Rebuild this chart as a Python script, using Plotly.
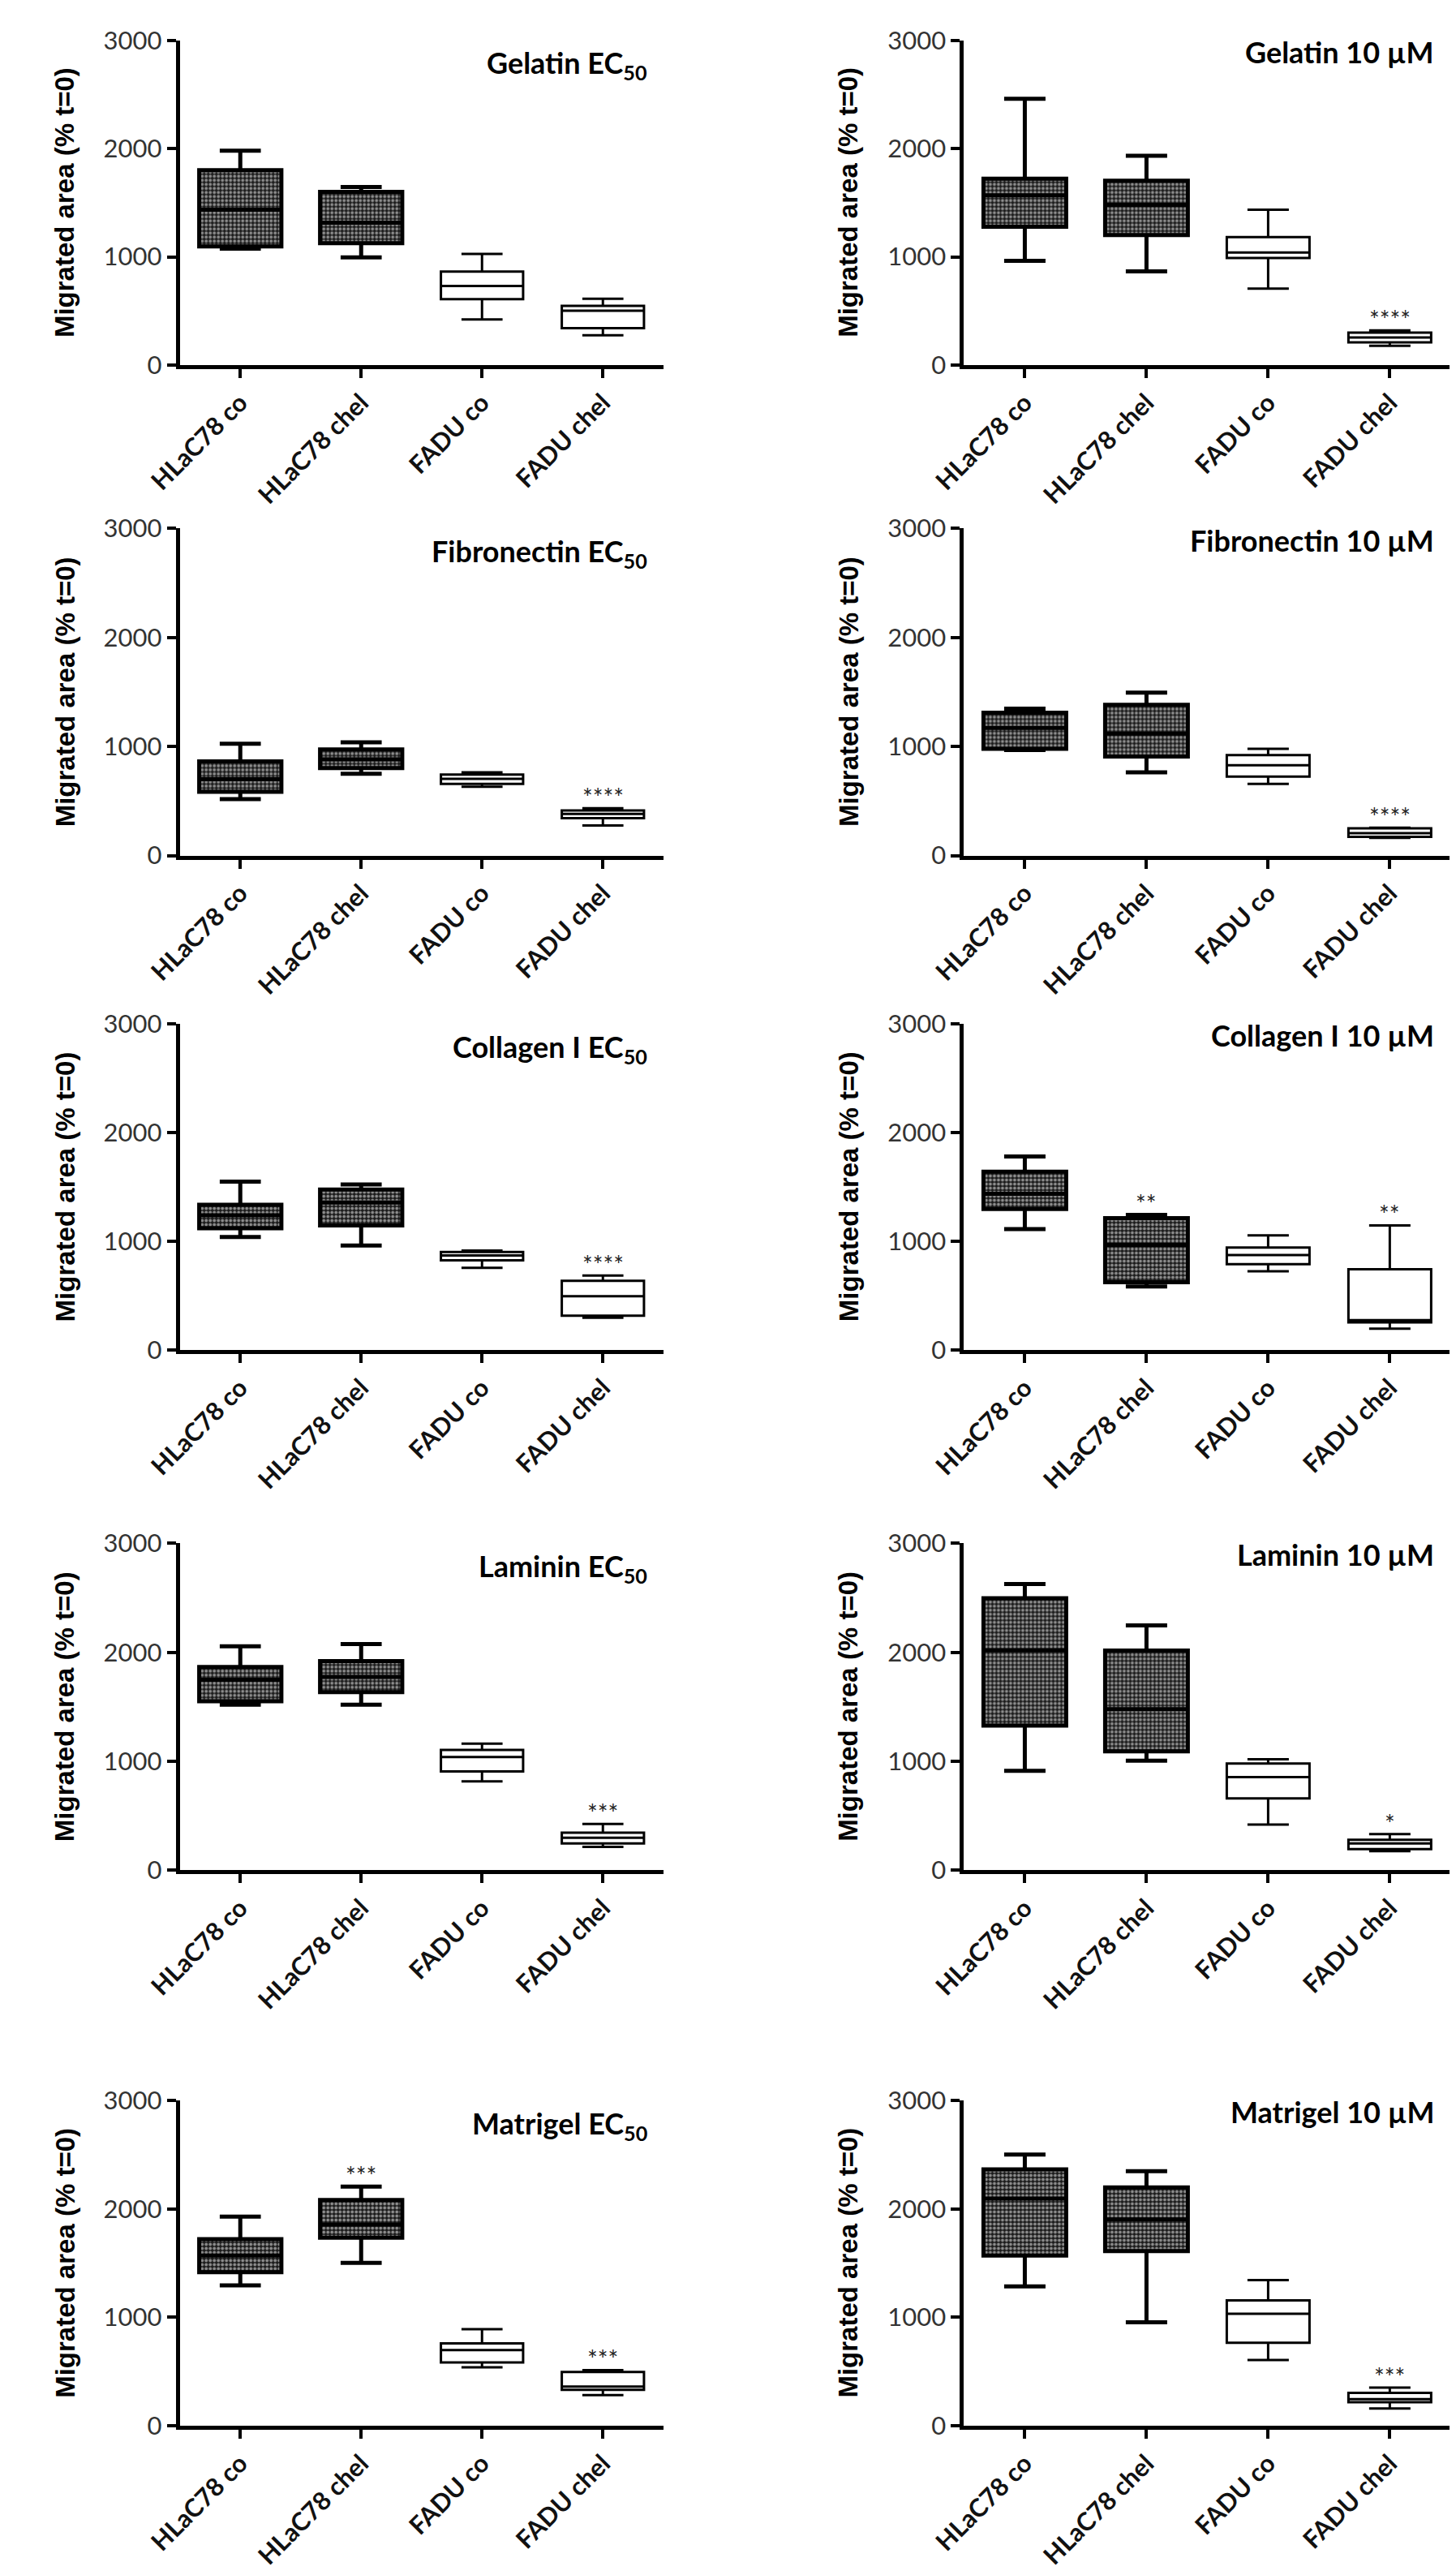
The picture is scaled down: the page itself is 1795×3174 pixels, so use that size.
import plotly.graph_objects as go

# categories and panel contents
categories = ["HLaC78 co", "HLaC78 chel", "FADU co", "FADU chel"]

# each panel: [lower whisker, Q1, median, Q3, upper whisker] per category
gelatin_ec50 = [
    [1075, 995, 420, 275],
    [1095, 1125, 608, 341],
    [1435, 1315, 730, 502],
    [1800, 1600, 863, 547],
    [1980, 1645, 1027, 613],
]
gelatin_10 = [
    [963, 866, 705, 177],
    [1277, 1201, 988, 210],
    [1568, 1479, 1040, 255],
    [1722, 1702, 1181, 300],
    [2460, 1933, 1434, 320],
]
fibronectin_ec50 = [
    [518, 750, 632, 276],
    [584, 803, 658, 342],
    [700, 882, 703, 382],
    [863, 974, 742, 413],
    [1026, 1039, 763, 434],
]
fibronectin_10 = [
    [968, 763, 658, 163],
    [979, 908, 724, 171],
    [1171, 1118, 829, 205],
    [1311, 1382, 921, 250],
    [1347, 1495, 979, 255],
]
collagen_ec50 = [
    [1041, 962, 757, 298],
    [1121, 1147, 825, 316],
    [1239, 1358, 870, 496],
    [1337, 1476, 902, 638],
    [1550, 1524, 915, 685],
]
collagen_10 = [
    [1113, 585, 725, 198],
    [1297, 625, 791, 255],
    [1437, 968, 875, 275],
    [1640, 1213, 944, 743],
    [1780, 1244, 1055, 1147],
]
laminin_ec50 = [
    [1520, 1520, 816, 215],
    [1551, 1635, 908, 247],
    [1748, 1774, 1039, 299],
    [1866, 1919, 1105, 346],
    [2055, 2076, 1163, 425],
]
laminin_10 = [
    [913, 1005, 420, 176],
    [1328, 1092, 659, 194],
    [2018, 1478, 856, 247],
    [2496, 2016, 979, 281],
    [2627, 2247, 1018, 333],
]
matrigel_ec50 = [
    [1295, 1503, 540, 283],
    [1416, 1734, 584, 332],
    [1569, 1855, 699, 361],
    [1720, 2081, 760, 497],
    [1928, 2205, 890, 514],
]
matrigel_10 = [
    [1286, 954, 607, 159],
    [1569, 1610, 766, 217],
    [2095, 1902, 1032, 246],
    [2364, 2197, 1156, 303],
    [2500, 2347, 1344, 353],
]

# significance marks per category
stars_gelatin_ec50 = ["", "", "", ""]
stars_gelatin_10 = ["", "", "", "****"]
stars_fibronectin_ec50 = ["", "", "", "****"]
stars_fibronectin_10 = ["", "", "", "****"]
stars_collagen_ec50 = ["", "", "", "****"]
stars_collagen_10 = ["", "**", "", "**"]
stars_laminin_ec50 = ["", "", "", "***"]
stars_laminin_10 = ["", "", "", "*"]
stars_matrigel_ec50 = ["", "***", "", "***"]
stars_matrigel_10 = ["", "", "", "***"]

titles = [
    "Gelatin EC<sub>50</sub>", "Gelatin 10 µM",
    "Fibronectin EC<sub>50</sub>", "Fibronectin 10 µM",
    "Collagen I EC<sub>50</sub>", "Collagen I 10 µM",
    "Laminin EC<sub>50</sub>", "Laminin 10 µM",
    "Matrigel EC<sub>50</sub>", "Matrigel 10 µM",
]
y_ticks = [0, 1000, 2000, 3000]
y_title = "Migrated area (% t=0)"

panels = [
    (gelatin_ec50, stars_gelatin_ec50), (gelatin_10, stars_gelatin_10),
    (fibronectin_ec50, stars_fibronectin_ec50), (fibronectin_10, stars_fibronectin_10),
    (collagen_ec50, stars_collagen_ec50), (collagen_10, stars_collagen_10),
    (laminin_ec50, stars_laminin_ec50), (laminin_10, stars_laminin_10),
    (matrigel_ec50, stars_matrigel_ec50), (matrigel_10, stars_matrigel_10),
]

# layout in pixels
W, H = 1795, 3174
col_px = [(174, 785), (1165, 1780)]
row_px = [(22, 427), (631, 1039), (1249, 1656), (1897, 2305), (2592, 2998)]
ytitle_px = [29, 1019]
title_yfrac = [0.925, 0.965]

FONT = "Lato"
BOX_W = 0.68

fig = go.Figure()
annotations = []

for i, (stats, stars) in enumerate(panels):
    row, col = divmod(i, 2)
    n = i + 1
    xa = "x" if n == 1 else f"x{n}"
    ya = "y" if n == 1 else f"y{n}"
    lower, q1, med, q3, upper = stats

    # crosshatch fill of HLaC78 boxes
    fig.add_trace(go.Bar(
        x=categories[:2], base=q1[:2],
        y=[q3[k] - q1[k] for k in range(2)],
        width=BOX_W, xaxis=xa, yaxis=ya, showlegend=False,
        marker=dict(color="black", line_width=0,
                    pattern=dict(shape=".", fgcolor="white", bgcolor="#1a1a1a",
                                 size=5, solidity=0.45, fillmode="overlay")),
        hoverinfo="skip",
    ))
    fig.add_trace(go.Box(
        x=categories[:2], lowerfence=lower[:2], q1=q1[:2], median=med[:2],
        q3=q3[:2], upperfence=upper[:2], width=BOX_W, whiskerwidth=0.5,
        line=dict(color="black", width=5), fillcolor="rgba(0,0,0,0)",
        boxpoints=False, xaxis=xa, yaxis=ya, showlegend=False,
    ))
    fig.add_trace(go.Box(
        x=categories[2:], lowerfence=lower[2:], q1=q1[2:], median=med[2:],
        q3=q3[2:], upperfence=upper[2:], width=BOX_W, whiskerwidth=0.5,
        line=dict(color="black", width=3), fillcolor="white",
        boxpoints=False, xaxis=xa, yaxis=ya, showlegend=False,
    ))

    x0, x1 = col_px[col]
    y0, y1 = row_px[row]
    axis_common = dict(showline=True, linecolor="black", linewidth=5,
                       ticks="outside", ticklen=11, tickwidth=4, tickcolor="black",
                       showgrid=False, zeroline=False)
    fig.layout[f"xaxis{n}"] = dict(
        axis_common, domain=[x0 / W, x1 / W], anchor=ya,
        type="category", categoryorder="array", categoryarray=categories,
        range=[-0.5, 3.5], tickangle=-45,
        tickfont=dict(family=FONT, size=31, color="#111", weight="bold"),
    )
    fig.layout[f"yaxis{n}"] = dict(
        axis_common, domain=[1 - y1 / H, 1 - y0 / H], anchor=xa,
        range=[0, 3000], tickvals=y_ticks,
        tickfont=dict(family=FONT, size=31, color="#333"),
    )

    # panel title
    annotations.append(dict(
        text=f"<b>{titles[i]}</b>", xref=f"{xa} domain", yref=f"{ya} domain",
        x=0.97, y=title_yfrac[col], xanchor="right", yanchor="middle",
        showarrow=False, font=dict(family=FONT, size=36, color="black"),
    ))
    # y axis title
    annotations.append(dict(
        text=f"<b>{y_title}</b>", xref="paper", yref=f"{ya} domain",
        x=ytitle_px[col] / W, y=0.5, xanchor="center", yanchor="middle",
        textangle=-90, showarrow=False,
        font=dict(family="Liberation Sans", size=33, color="black"),
    ))
    # significance stars
    for k, s in enumerate(stars):
        if s:
            annotations.append(dict(
                text=s, xref=xa, yref=ya, x=categories[k], y=upper[k],
                xanchor="center", yanchor="bottom", yshift=-6, showarrow=False,
                font=dict(family=FONT, size=30, color="#222"),
            ))

fig.update_layout(
    width=W, height=H, margin=dict(l=0, r=0, t=0, b=0),
    plot_bgcolor="white", paper_bgcolor="white",
    boxmode="overlay", barmode="overlay",
    annotations=annotations,
)

fig.write_html("out.html")
